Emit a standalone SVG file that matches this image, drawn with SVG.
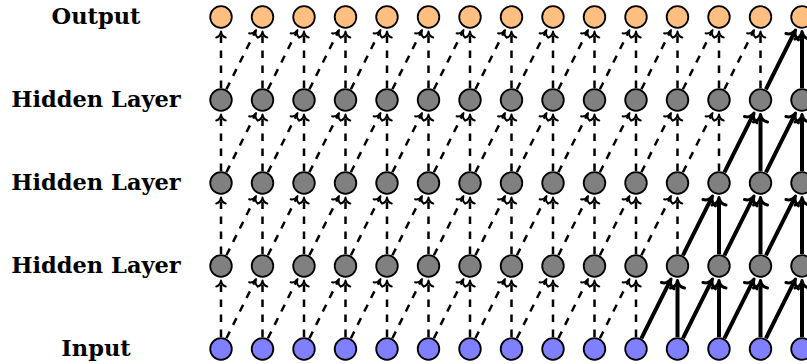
<svg xmlns="http://www.w3.org/2000/svg" width="807" height="364" viewBox="0 0 807 364">
<style>
.lbl{font-family:"DejaVu Serif","Liberation Serif",serif;font-weight:bold;font-size:22.5px;fill:#000;text-anchor:middle}
.n{stroke:#000;stroke-width:1.8}
.o{fill:#FFBF80}
.h{fill:#808080}
.i{fill:#8080FF}
.d{stroke:#000;stroke-width:2.5;stroke-dasharray:7.5 7.5;fill:none;marker-end:url(#ah)}
.b{stroke:#000;stroke-width:4;fill:none;marker-end:url(#ahb)}
</style>
<defs>
<marker id="ah" markerUnits="userSpaceOnUse" orient="auto" refX="0" refY="0" markerWidth="20" markerHeight="20" overflow="visible">
<path d="M-5,-4.8 C-4.4,-2 -1.6,-0.4 1,0 C-1.6,0.4 -4.4,2 -5,4.8" fill="none" stroke="#000" stroke-width="1.9" stroke-linecap="round" stroke-linejoin="round" stroke-dasharray="none"/>
</marker>
<marker id="ahb" markerUnits="userSpaceOnUse" orient="auto" refX="0" refY="0" markerWidth="30" markerHeight="30" overflow="visible">
<path d="M-4.5,-7 C-3.8,-3 -0.5,-0.6 3,0 C-0.5,0.6 -3.8,3 -4.5,7" fill="none" stroke="#000" stroke-width="3" stroke-linecap="round" stroke-linejoin="round"/>
</marker>
</defs>
<g id="labels">
<text class="lbl" x="96" y="24">Output</text>
<text class="lbl" x="96" y="107">Hidden Layer</text>
<text class="lbl" x="96" y="190">Hidden Layer</text>
<text class="lbl" x="96" y="273">Hidden Layer</text>
<text class="lbl" x="96" y="356">Input</text>
</g>
<g id="connectors">
<!-- hidden1 (y=100) to output (y=17) -->
<line class="d" x1="221" y1="88" x2="221" y2="32.5"/>
<line class="d" x1="262.5" y1="88" x2="262.5" y2="32.5"/>
<line class="d" x1="304" y1="88" x2="304" y2="32.5"/>
<line class="d" x1="345.5" y1="88" x2="345.5" y2="32.5"/>
<line class="d" x1="387" y1="88" x2="387" y2="32.5"/>
<line class="d" x1="428.5" y1="88" x2="428.5" y2="32.5"/>
<line class="d" x1="470" y1="88" x2="470" y2="32.5"/>
<line class="d" x1="511.5" y1="88" x2="511.5" y2="32.5"/>
<line class="d" x1="553" y1="88" x2="553" y2="32.5"/>
<line class="d" x1="594.5" y1="88" x2="594.5" y2="32.5"/>
<line class="d" x1="636" y1="88" x2="636" y2="32.5"/>
<line class="d" x1="677.5" y1="88" x2="677.5" y2="32.5"/>
<line class="d" x1="719" y1="88" x2="719" y2="32.5"/>
<line class="d" x1="760.5" y1="88" x2="760.5" y2="32.5"/>
<line class="b" x1="802" y1="88" x2="802" y2="34.5"/>
<line class="d" x1="226.4" y1="89.3" x2="255.6" y2="30.9"/>
<line class="d" x1="267.9" y1="89.3" x2="297.1" y2="30.9"/>
<line class="d" x1="309.4" y1="89.3" x2="338.6" y2="30.9"/>
<line class="d" x1="350.9" y1="89.3" x2="380.1" y2="30.9"/>
<line class="d" x1="392.4" y1="89.3" x2="421.6" y2="30.9"/>
<line class="d" x1="433.9" y1="89.3" x2="463.1" y2="30.9"/>
<line class="d" x1="475.4" y1="89.3" x2="504.6" y2="30.9"/>
<line class="d" x1="516.9" y1="89.3" x2="546.1" y2="30.9"/>
<line class="d" x1="558.4" y1="89.3" x2="587.6" y2="30.9"/>
<line class="d" x1="599.9" y1="89.3" x2="629.1" y2="30.9"/>
<line class="d" x1="641.4" y1="89.3" x2="670.6" y2="30.9"/>
<line class="d" x1="682.9" y1="89.3" x2="712.1" y2="30.9"/>
<line class="d" x1="724.4" y1="89.3" x2="753.6" y2="30.9"/>
<line class="b" x1="765.9" y1="89.3" x2="794.2" y2="32.65"/>
<!-- hidden2 (y=183) to hidden1 (y=100) -->
<line class="d" x1="221" y1="171" x2="221" y2="115.5"/>
<line class="d" x1="262.5" y1="171" x2="262.5" y2="115.5"/>
<line class="d" x1="304" y1="171" x2="304" y2="115.5"/>
<line class="d" x1="345.5" y1="171" x2="345.5" y2="115.5"/>
<line class="d" x1="387" y1="171" x2="387" y2="115.5"/>
<line class="d" x1="428.5" y1="171" x2="428.5" y2="115.5"/>
<line class="d" x1="470" y1="171" x2="470" y2="115.5"/>
<line class="d" x1="511.5" y1="171" x2="511.5" y2="115.5"/>
<line class="d" x1="553" y1="171" x2="553" y2="115.5"/>
<line class="d" x1="594.5" y1="171" x2="594.5" y2="115.5"/>
<line class="d" x1="636" y1="171" x2="636" y2="115.5"/>
<line class="d" x1="677.5" y1="171" x2="677.5" y2="115.5"/>
<line class="d" x1="719" y1="171" x2="719" y2="115.5"/>
<line class="b" x1="760.5" y1="171" x2="760.5" y2="117.5"/>
<line class="b" x1="802" y1="171" x2="802" y2="117.5"/>
<line class="d" x1="226.4" y1="172.3" x2="255.6" y2="113.9"/>
<line class="d" x1="267.9" y1="172.3" x2="297.1" y2="113.9"/>
<line class="d" x1="309.4" y1="172.3" x2="338.6" y2="113.9"/>
<line class="d" x1="350.9" y1="172.3" x2="380.1" y2="113.9"/>
<line class="d" x1="392.4" y1="172.3" x2="421.6" y2="113.9"/>
<line class="d" x1="433.9" y1="172.3" x2="463.1" y2="113.9"/>
<line class="d" x1="475.4" y1="172.3" x2="504.6" y2="113.9"/>
<line class="d" x1="516.9" y1="172.3" x2="546.1" y2="113.9"/>
<line class="d" x1="558.4" y1="172.3" x2="587.6" y2="113.9"/>
<line class="d" x1="599.9" y1="172.3" x2="629.1" y2="113.9"/>
<line class="d" x1="641.4" y1="172.3" x2="670.6" y2="113.9"/>
<line class="d" x1="682.9" y1="172.3" x2="712.1" y2="113.9"/>
<line class="b" x1="724.4" y1="172.3" x2="752.7" y2="115.65"/>
<line class="b" x1="765.9" y1="172.3" x2="794.2" y2="115.65"/>
<!-- hidden3 (y=266) to hidden2 (y=183) -->
<line class="d" x1="221" y1="254" x2="221" y2="198.5"/>
<line class="d" x1="262.5" y1="254" x2="262.5" y2="198.5"/>
<line class="d" x1="304" y1="254" x2="304" y2="198.5"/>
<line class="d" x1="345.5" y1="254" x2="345.5" y2="198.5"/>
<line class="d" x1="387" y1="254" x2="387" y2="198.5"/>
<line class="d" x1="428.5" y1="254" x2="428.5" y2="198.5"/>
<line class="d" x1="470" y1="254" x2="470" y2="198.5"/>
<line class="d" x1="511.5" y1="254" x2="511.5" y2="198.5"/>
<line class="d" x1="553" y1="254" x2="553" y2="198.5"/>
<line class="d" x1="594.5" y1="254" x2="594.5" y2="198.5"/>
<line class="d" x1="636" y1="254" x2="636" y2="198.5"/>
<line class="d" x1="677.5" y1="254" x2="677.5" y2="198.5"/>
<line class="b" x1="719" y1="254" x2="719" y2="200.5"/>
<line class="b" x1="760.5" y1="254" x2="760.5" y2="200.5"/>
<line class="b" x1="802" y1="254" x2="802" y2="200.5"/>
<line class="d" x1="226.4" y1="255.3" x2="255.6" y2="196.9"/>
<line class="d" x1="267.9" y1="255.3" x2="297.1" y2="196.9"/>
<line class="d" x1="309.4" y1="255.3" x2="338.6" y2="196.9"/>
<line class="d" x1="350.9" y1="255.3" x2="380.1" y2="196.9"/>
<line class="d" x1="392.4" y1="255.3" x2="421.6" y2="196.9"/>
<line class="d" x1="433.9" y1="255.3" x2="463.1" y2="196.9"/>
<line class="d" x1="475.4" y1="255.3" x2="504.6" y2="196.9"/>
<line class="d" x1="516.9" y1="255.3" x2="546.1" y2="196.9"/>
<line class="d" x1="558.4" y1="255.3" x2="587.6" y2="196.9"/>
<line class="d" x1="599.9" y1="255.3" x2="629.1" y2="196.9"/>
<line class="d" x1="641.4" y1="255.3" x2="670.6" y2="196.9"/>
<line class="b" x1="682.9" y1="255.3" x2="711.2" y2="198.65"/>
<line class="b" x1="724.4" y1="255.3" x2="752.7" y2="198.65"/>
<line class="b" x1="765.9" y1="255.3" x2="794.2" y2="198.65"/>
<!-- input (y=349) to hidden3 (y=266) -->
<line class="d" x1="221" y1="337" x2="221" y2="281.5"/>
<line class="d" x1="262.5" y1="337" x2="262.5" y2="281.5"/>
<line class="d" x1="304" y1="337" x2="304" y2="281.5"/>
<line class="d" x1="345.5" y1="337" x2="345.5" y2="281.5"/>
<line class="d" x1="387" y1="337" x2="387" y2="281.5"/>
<line class="d" x1="428.5" y1="337" x2="428.5" y2="281.5"/>
<line class="d" x1="470" y1="337" x2="470" y2="281.5"/>
<line class="d" x1="511.5" y1="337" x2="511.5" y2="281.5"/>
<line class="d" x1="553" y1="337" x2="553" y2="281.5"/>
<line class="d" x1="594.5" y1="337" x2="594.5" y2="281.5"/>
<line class="d" x1="636" y1="337" x2="636" y2="281.5"/>
<line class="b" x1="677.5" y1="337" x2="677.5" y2="283.5"/>
<line class="b" x1="719" y1="337" x2="719" y2="283.5"/>
<line class="b" x1="760.5" y1="337" x2="760.5" y2="283.5"/>
<line class="b" x1="802" y1="337" x2="802" y2="283.5"/>
<line class="d" x1="226.4" y1="338.3" x2="255.6" y2="279.9"/>
<line class="d" x1="267.9" y1="338.3" x2="297.1" y2="279.9"/>
<line class="d" x1="309.4" y1="338.3" x2="338.6" y2="279.9"/>
<line class="d" x1="350.9" y1="338.3" x2="380.1" y2="279.9"/>
<line class="d" x1="392.4" y1="338.3" x2="421.6" y2="279.9"/>
<line class="d" x1="433.9" y1="338.3" x2="463.1" y2="279.9"/>
<line class="d" x1="475.4" y1="338.3" x2="504.6" y2="279.9"/>
<line class="d" x1="516.9" y1="338.3" x2="546.1" y2="279.9"/>
<line class="d" x1="558.4" y1="338.3" x2="587.6" y2="279.9"/>
<line class="d" x1="599.9" y1="338.3" x2="629.1" y2="279.9"/>
<line class="b" x1="641.4" y1="338.3" x2="669.7" y2="281.65"/>
<line class="b" x1="682.9" y1="338.3" x2="711.2" y2="281.65"/>
<line class="b" x1="724.4" y1="338.3" x2="752.7" y2="281.65"/>
<line class="b" x1="765.9" y1="338.3" x2="794.2" y2="281.65"/>
</g>
<g id="output">
<g id="o0"><circle class="n o" cx="221" cy="17" r="10.8"/></g>
<g id="o1"><circle class="n o" cx="262.5" cy="17" r="10.8"/></g>
<g id="o2"><circle class="n o" cx="304" cy="17" r="10.8"/></g>
<g id="o3"><circle class="n o" cx="345.5" cy="17" r="10.8"/></g>
<g id="o4"><circle class="n o" cx="387" cy="17" r="10.8"/></g>
<g id="o5"><circle class="n o" cx="428.5" cy="17" r="10.8"/></g>
<g id="o6"><circle class="n o" cx="470" cy="17" r="10.8"/></g>
<g id="o7"><circle class="n o" cx="511.5" cy="17" r="10.8"/></g>
<g id="o8"><circle class="n o" cx="553" cy="17" r="10.8"/></g>
<g id="o9"><circle class="n o" cx="594.5" cy="17" r="10.8"/></g>
<g id="o10"><circle class="n o" cx="636" cy="17" r="10.8"/></g>
<g id="o11"><circle class="n o" cx="677.5" cy="17" r="10.8"/></g>
<g id="o12"><circle class="n o" cx="719" cy="17" r="10.8"/></g>
<g id="o13"><circle class="n o" cx="760.5" cy="17" r="10.8"/></g>
<g id="o14"><circle class="n o" cx="802" cy="17" r="10.8"/></g>
</g>
<g id="hidden1">
<g id="h1_0"><circle class="n h" cx="221" cy="100" r="10.8"/></g>
<g id="h1_1"><circle class="n h" cx="262.5" cy="100" r="10.8"/></g>
<g id="h1_2"><circle class="n h" cx="304" cy="100" r="10.8"/></g>
<g id="h1_3"><circle class="n h" cx="345.5" cy="100" r="10.8"/></g>
<g id="h1_4"><circle class="n h" cx="387" cy="100" r="10.8"/></g>
<g id="h1_5"><circle class="n h" cx="428.5" cy="100" r="10.8"/></g>
<g id="h1_6"><circle class="n h" cx="470" cy="100" r="10.8"/></g>
<g id="h1_7"><circle class="n h" cx="511.5" cy="100" r="10.8"/></g>
<g id="h1_8"><circle class="n h" cx="553" cy="100" r="10.8"/></g>
<g id="h1_9"><circle class="n h" cx="594.5" cy="100" r="10.8"/></g>
<g id="h1_10"><circle class="n h" cx="636" cy="100" r="10.8"/></g>
<g id="h1_11"><circle class="n h" cx="677.5" cy="100" r="10.8"/></g>
<g id="h1_12"><circle class="n h" cx="719" cy="100" r="10.8"/></g>
<g id="h1_13"><circle class="n h" cx="760.5" cy="100" r="10.8"/></g>
<g id="h1_14"><circle class="n h" cx="802" cy="100" r="10.8"/></g>
</g>
<g id="hidden2">
<g id="h2_0"><circle class="n h" cx="221" cy="183" r="10.8"/></g>
<g id="h2_1"><circle class="n h" cx="262.5" cy="183" r="10.8"/></g>
<g id="h2_2"><circle class="n h" cx="304" cy="183" r="10.8"/></g>
<g id="h2_3"><circle class="n h" cx="345.5" cy="183" r="10.8"/></g>
<g id="h2_4"><circle class="n h" cx="387" cy="183" r="10.8"/></g>
<g id="h2_5"><circle class="n h" cx="428.5" cy="183" r="10.8"/></g>
<g id="h2_6"><circle class="n h" cx="470" cy="183" r="10.8"/></g>
<g id="h2_7"><circle class="n h" cx="511.5" cy="183" r="10.8"/></g>
<g id="h2_8"><circle class="n h" cx="553" cy="183" r="10.8"/></g>
<g id="h2_9"><circle class="n h" cx="594.5" cy="183" r="10.8"/></g>
<g id="h2_10"><circle class="n h" cx="636" cy="183" r="10.8"/></g>
<g id="h2_11"><circle class="n h" cx="677.5" cy="183" r="10.8"/></g>
<g id="h2_12"><circle class="n h" cx="719" cy="183" r="10.8"/></g>
<g id="h2_13"><circle class="n h" cx="760.5" cy="183" r="10.8"/></g>
<g id="h2_14"><circle class="n h" cx="802" cy="183" r="10.8"/></g>
</g>
<g id="hidden3">
<g id="h3_0"><circle class="n h" cx="221" cy="266" r="10.8"/></g>
<g id="h3_1"><circle class="n h" cx="262.5" cy="266" r="10.8"/></g>
<g id="h3_2"><circle class="n h" cx="304" cy="266" r="10.8"/></g>
<g id="h3_3"><circle class="n h" cx="345.5" cy="266" r="10.8"/></g>
<g id="h3_4"><circle class="n h" cx="387" cy="266" r="10.8"/></g>
<g id="h3_5"><circle class="n h" cx="428.5" cy="266" r="10.8"/></g>
<g id="h3_6"><circle class="n h" cx="470" cy="266" r="10.8"/></g>
<g id="h3_7"><circle class="n h" cx="511.5" cy="266" r="10.8"/></g>
<g id="h3_8"><circle class="n h" cx="553" cy="266" r="10.8"/></g>
<g id="h3_9"><circle class="n h" cx="594.5" cy="266" r="10.8"/></g>
<g id="h3_10"><circle class="n h" cx="636" cy="266" r="10.8"/></g>
<g id="h3_11"><circle class="n h" cx="677.5" cy="266" r="10.8"/></g>
<g id="h3_12"><circle class="n h" cx="719" cy="266" r="10.8"/></g>
<g id="h3_13"><circle class="n h" cx="760.5" cy="266" r="10.8"/></g>
<g id="h3_14"><circle class="n h" cx="802" cy="266" r="10.8"/></g>
</g>
<g id="input">
<g id="i0"><circle class="n i" cx="221" cy="349" r="10.8"/></g>
<g id="i1"><circle class="n i" cx="262.5" cy="349" r="10.8"/></g>
<g id="i2"><circle class="n i" cx="304" cy="349" r="10.8"/></g>
<g id="i3"><circle class="n i" cx="345.5" cy="349" r="10.8"/></g>
<g id="i4"><circle class="n i" cx="387" cy="349" r="10.8"/></g>
<g id="i5"><circle class="n i" cx="428.5" cy="349" r="10.8"/></g>
<g id="i6"><circle class="n i" cx="470" cy="349" r="10.8"/></g>
<g id="i7"><circle class="n i" cx="511.5" cy="349" r="10.8"/></g>
<g id="i8"><circle class="n i" cx="553" cy="349" r="10.8"/></g>
<g id="i9"><circle class="n i" cx="594.5" cy="349" r="10.8"/></g>
<g id="i10"><circle class="n i" cx="636" cy="349" r="10.8"/></g>
<g id="i11"><circle class="n i" cx="677.5" cy="349" r="10.8"/></g>
<g id="i12"><circle class="n i" cx="719" cy="349" r="10.8"/></g>
<g id="i13"><circle class="n i" cx="760.5" cy="349" r="10.8"/></g>
<g id="i14"><circle class="n i" cx="802" cy="349" r="10.8"/></g>
</g>
</svg>
